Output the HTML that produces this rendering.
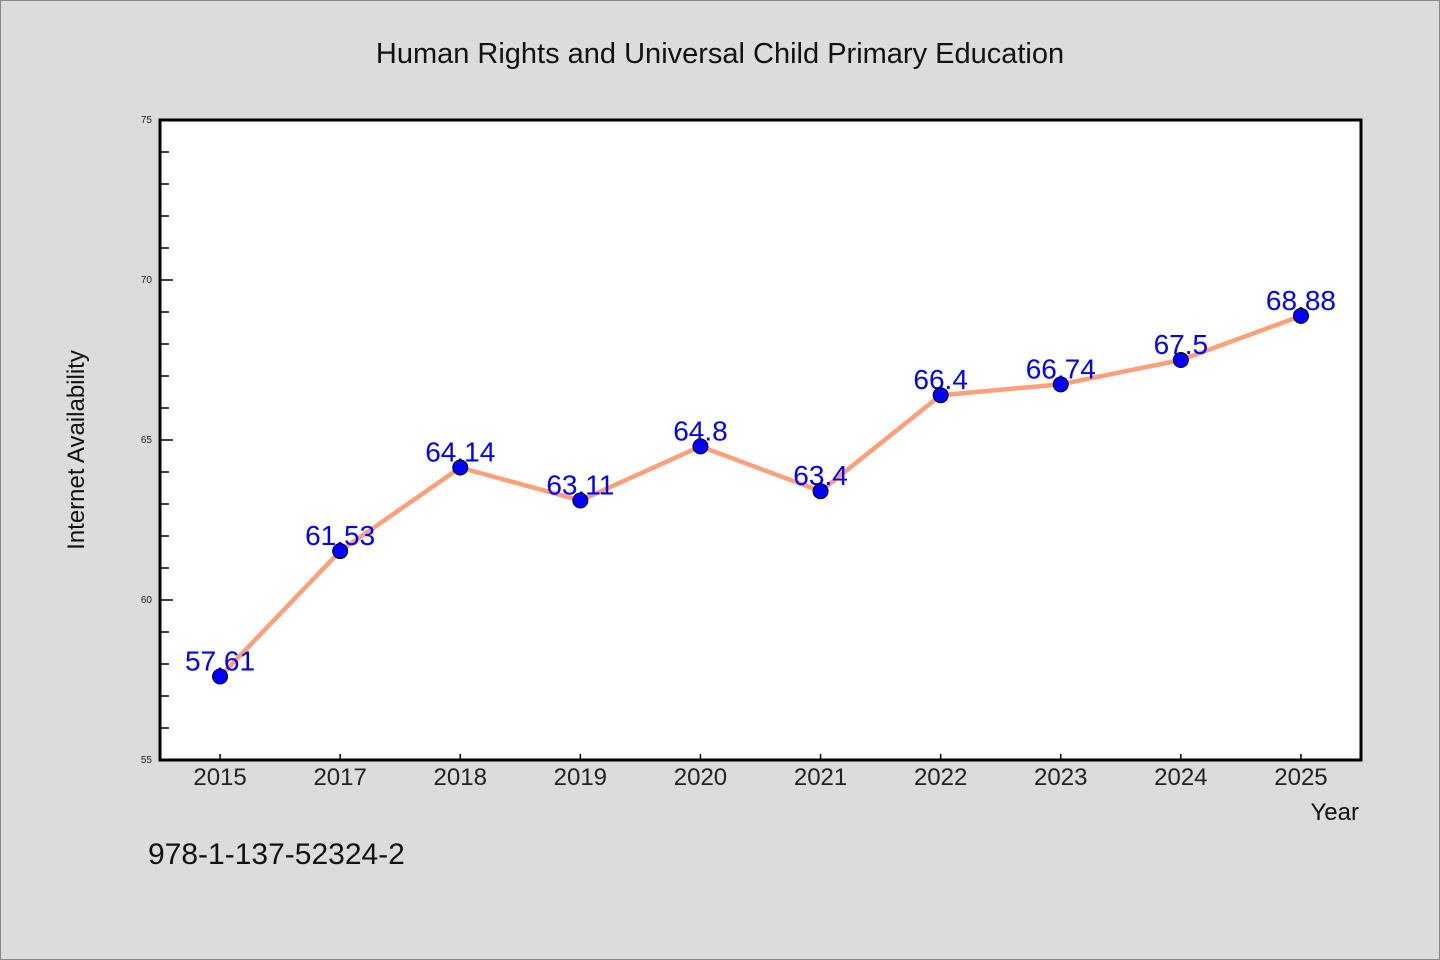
<!DOCTYPE html>
<html><head><meta charset="utf-8"><style>
html,body{margin:0;padding:0;background:#dcdcdc;}
svg{display:block;}
text{font-family:"WenQuanYi Zen Hei","Liberation Sans",sans-serif;}
</style></head><body>
<svg id="chart" width="1440" height="960" xmlns="http://www.w3.org/2000/svg">
<rect x="0.5" y="0.5" width="1439" height="959" fill="#dcdcdc" stroke="#888"/>
<text x="720" y="63" text-anchor="middle" font-size="29" fill="#111">Human Rights and Universal Child Primary Education</text>
<rect x="160" y="120" width="1201" height="640" fill="#fff"/>
<g id="axes"></g>
<g id="series"></g>
<g id="labels"></g>
<rect x="160" y="120" width="1201" height="640" fill="none" stroke="#000" stroke-width="3"/>
<text transform="translate(84,450) rotate(-90)" text-anchor="middle" font-size="24" fill="#111">Internet Availability</text>
<text x="1359" y="820" text-anchor="end" font-size="24" fill="#111">Year</text>
<text x="148" y="864" font-size="30" fill="#111">978-1-137-52324-2</text>
</svg>
<script>
const categories=["2015","2017","2018","2019","2020","2021","2022","2023","2024","2025"];
const values=[57.61,61.53,64.14,63.11,64.8,63.4,66.4,66.74,67.5,68.88];
const labels=["57.61","61.53","64.14","63.11","64.8","63.4","66.4","66.74","67.5","68.88"];
const yTicks=[55,60,65,70,75];
const yMin=55,yMax=75;
const L=160,R=1361,T=120,B=760;
const NS="http://www.w3.org/2000/svg";
function x(i){return L+(R-L)/categories.length*(i+0.5);}
function y(v){return B-(v-yMin)/(yMax-yMin)*(B-T);}
function mk(tag,attrs,parent){const e=document.createElementNS(NS,tag);for(const k in attrs)e.setAttribute(k,attrs[k]);document.getElementById(parent).appendChild(e);return e;}
for(let v=yMin;v<=yMax;v++){
  const major=yTicks.includes(v);
  const t=mk('line',{x1:L,x2:L+(major?13:9),y1:y(v),y2:y(v),stroke:'#000','stroke-width':1.5},'axes');
  
  
  if(major){
    const lb=mk('text',{x:L-8,y:y(v)+3,'text-anchor':'end','font-size':10,fill:'#222'},'axes');
    lb.textContent=v;
    
    
  }
}
categories.forEach((c,i)=>{
  const t=mk('line',{x1:x(i),x2:x(i),y1:B,y2:B-6,stroke:'#000','stroke-width':1.5},'axes');
  
  
  const lb=mk('text',{x:x(i),y:B+25,'text-anchor':'middle','font-size':24,fill:'#222'},'axes');
  lb.textContent=c;
  
  
});
const line=mk('polyline',{points:values.map((v,i)=>x(i)+','+y(v)).join(' '),fill:'none',stroke:'#ffa07a','stroke-width':4.5,'stroke-linejoin':'round'},'series');


values.forEach((v,i)=>{
  const lb=mk('text',{x:x(i),y:y(v)-6,'text-anchor':'middle','font-size':28,fill:'#0000ff'},'series');
  lb.textContent=labels[i];
  
  
});
values.forEach((v,i)=>{
  const p=mk('circle',{cx:x(i),cy:y(v),r:7.5,fill:'#0000ff',stroke:'#000','stroke-width':1},'series');
  
  
});
</script>
</body></html>
